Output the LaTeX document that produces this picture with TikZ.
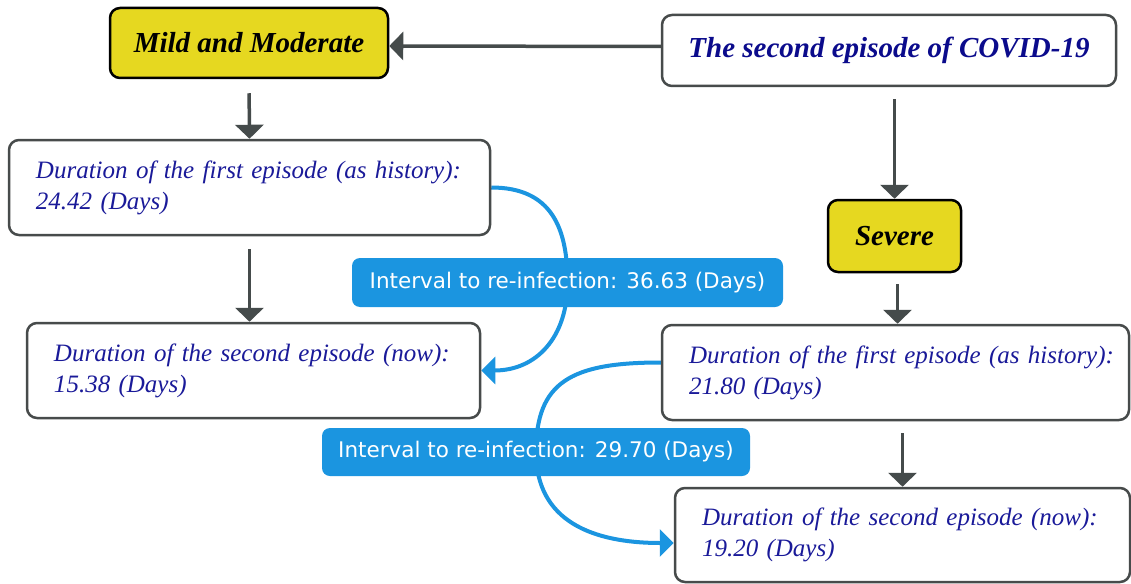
\documentclass[tikz,border=0pt]{standalone}
\usepackage{fontspec}
\setmainfont{Liberation Serif}
\newfontfamily\labfont{DejaVu Sans}
\usetikzlibrary{arrows.meta,calc}
\pgfdeclarelayer{background}
\pgfsetlayers{background,main}
\definecolor{navy}{HTML}{1A1A99}
\definecolor{titlenavy}{HTML}{0B0B8C}
\definecolor{boxgray}{HTML}{474B4B}
\definecolor{arrowgray}{HTML}{454B4B}
\definecolor{ylw}{HTML}{E6D820}
\definecolor{bl}{HTML}{1B95E0}
\newcommand\padl{\hspace*{27pt}}
\newcommand\durfont{\fontsize{25}{31}\selectfont\itshape\spaceskip 4.2pt plus 1pt minus 0.5pt\relax}
\begin{document}
\begin{tikzpicture}[x=1pt,y=-1pt,
  durbox/.style={draw=boxgray, line width=2.5pt, rounded corners=10pt, fill=white,
    text=navy, font=\durfont, align=left,
    inner xsep=0pt, inner ysep=0pt, minimum height=95pt, text width=#1},
  titlebox/.style={draw=boxgray, line width=2.5pt, rounded corners=10pt, fill=white,
    text=titlenavy, font=\fontsize{29}{32}\selectfont\bfseries\itshape,
    inner sep=0pt, minimum width=454pt, minimum height=71pt},
  ybox/.style={draw=black, line width=2.5pt, rounded corners=10pt, fill=ylw,
    text=black, font=\fontsize{29}{32}\selectfont\bfseries\itshape, inner sep=0pt},
  labbox/.style={fill=bl, rounded corners=8pt, text=white,
    font=\labfont\fontsize{21.5}{24}\selectfont, inner sep=0pt},
  garr/.style={draw=arrowgray, line width=3.5pt, -{Triangle[length=14pt,width=28pt]}},
  barr/.style={draw=bl, line width=4pt, -{Triangle[length=14pt,width=27pt]}}
]
\begin{pgfonlayer}{background}
\fill[white] (0,0) rectangle (1131,583);
\end{pgfonlayer}
\useasboundingbox (0,0) rectangle (1131,583);

\node[ybox, minimum width=278pt, minimum height=70pt] (mild) at (249,43) {Mild and Moderate};
\node[titlebox] (title) at (889,50.5) {The second episode of COVID-19};
\node[ybox, minimum width=133pt, minimum height=72pt] (severe) at (894.5,236) {Severe};

\node[durbox=481pt] (l1) at (249.5,187.5) {\padl Duration of the first episode (as history):\\\padl 24.42 (Days)};
\node[durbox=453pt] (l2) at (253.5,370.5) {\padl Duration of the second episode (now):\\\padl 15.38 (Days)};
\node[durbox=467pt] (r1) at (895.5,372.5) {\padl Duration of the first episode (as history):\\\padl 21.80 (Days)};
\node[durbox=455pt, minimum height=94pt] (r2) at (902.5,535) {\padl Duration of the second episode (now):\\\padl 19.20 (Days)};

\node[labbox, minimum width=431pt, minimum height=49pt] (lab1) at (567.5,282.5) {Interval to re-infection: 36.63 (Days)};
\node[labbox, minimum width=428pt, minimum height=48pt] (lab2) at (536,452) {Interval to re-infection: 29.70 (Days)};

\draw[garr] ([yshift=4pt]title.west) -- ([yshift=-3pt]mild.east);
\draw[garr, shorten <=14pt] (mild.south) -- (l1.north);
\draw[garr, shorten <=13pt] (l1.south) -- (l1.south |- l2.north);
\draw[garr, shorten <=12pt] (severe.north |- title.south) -- (severe.north);
\draw[garr, shorten <=11pt] ([xshift=3pt]severe.south) -- ([xshift=3pt]severe.south |- r1.north);
\draw[garr, shorten <=12pt] (r2.north |- r1.south) -- (r2.north);

\begin{pgfonlayer}{background}
\draw[barr] (l1.east) .. controls +(60,0) and +(0,-55) .. (lab1.center)
  .. controls +(0,55) and +(55,0) .. (l2.east);
\draw[barr] ([yshift=10pt]r1.west) .. controls +(-90,0) and +(0,-70) .. (lab2.center)
  .. controls +(0,70) and +(-80,0) .. ([yshift=-8pt]r2.west);
\end{pgfonlayer}
\end{tikzpicture}
\end{document}
